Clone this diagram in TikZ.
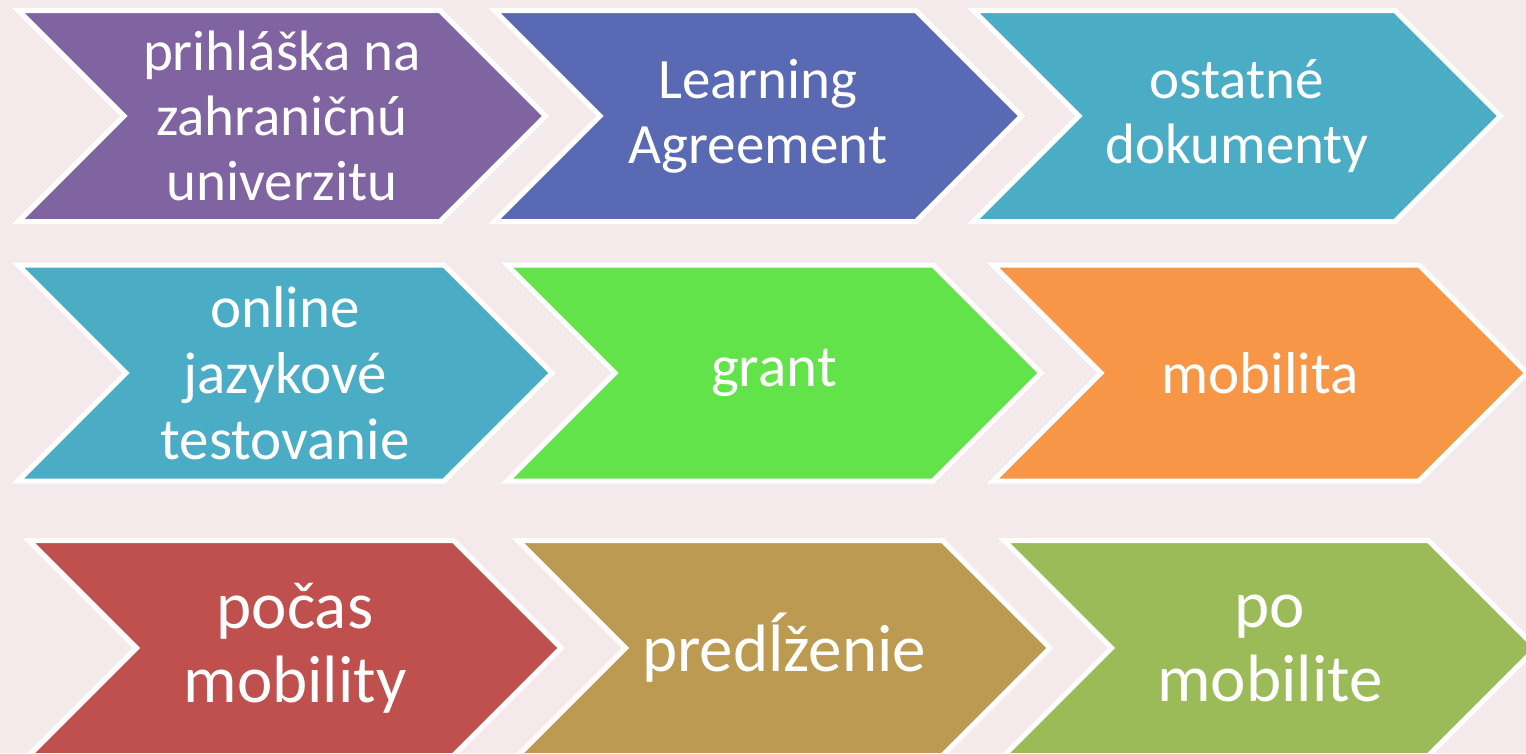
\documentclass[tikz,border=0pt]{standalone}
\usepackage{fontspec}
\setmainfont{Carlito}
\usetikzlibrary{shapes.symbols}

\definecolor{bgpink}{HTML}{F4EAEC}
\definecolor{cviolet}{HTML}{8064A2}
\definecolor{cblue}{HTML}{5A69B4}
\definecolor{cteal}{HTML}{4BACC6}
\definecolor{cgreen}{HTML}{63E34A}
\definecolor{corange}{HTML}{F79646}
\definecolor{cred}{HTML}{C0504D}
\definecolor{cgold}{HTML}{BD9A52}
\definecolor{colive}{HTML}{9BBB59}

\begin{document}
\begin{tikzpicture}
  [x=1pt,y=-1pt,
   every node/.style={signal,signal from=west,signal to=east,signal pointer angle=90,
     draw=white,line width=5pt,line join=miter,text=white,align=center,inner sep=0pt},
   rowa/.style={minimum width=527pt,minimum height=211pt,font=\fontsize{57}{65}\selectfont},
   rowb/.style={minimum width=534pt,minimum height=216pt,font=\fontsize{59}{66}\selectfont},
   rowc/.style={minimum width=532pt,minimum height=215pt,font=\fontsize{67}{74}\selectfont}]
  \fill[bgpink] (0,0) rectangle (1526,753);
  \useasboundingbox (0,0) rectangle (1526,753);

  % first row
  \node[rowa,fill=cviolet] (s1) at (282,116) {prihláška na\\zahraničnú\\univerzitu};
  \node[rowa,fill=cblue]   (s2) at (758,116) {Learning\\Agreement};
  \node[rowa,fill=cteal]   (s3) at (1237,116) {ostatné\\dokumenty};

  % second row
  \node[rowb,fill=cteal]   (s4) at (285,373) {online\\jazykové\\testovanie};
  \node[rowb,fill=cgreen]  (s5) at (774,373) {grant};
  \node[rowb,fill=corange] (s6) at (1260,373) {mobilita};

  % third row
  \node[rowc,fill=cred]    (s7) at (295,648) {počas\\mobility};
  \node[rowc,fill=cgold]   (s8) at (784,648) {predĺženie};
  \node[rowc,fill=colive]  (s9) at (1270,648) {po\\mobilite};
\end{tikzpicture}
\end{document}
